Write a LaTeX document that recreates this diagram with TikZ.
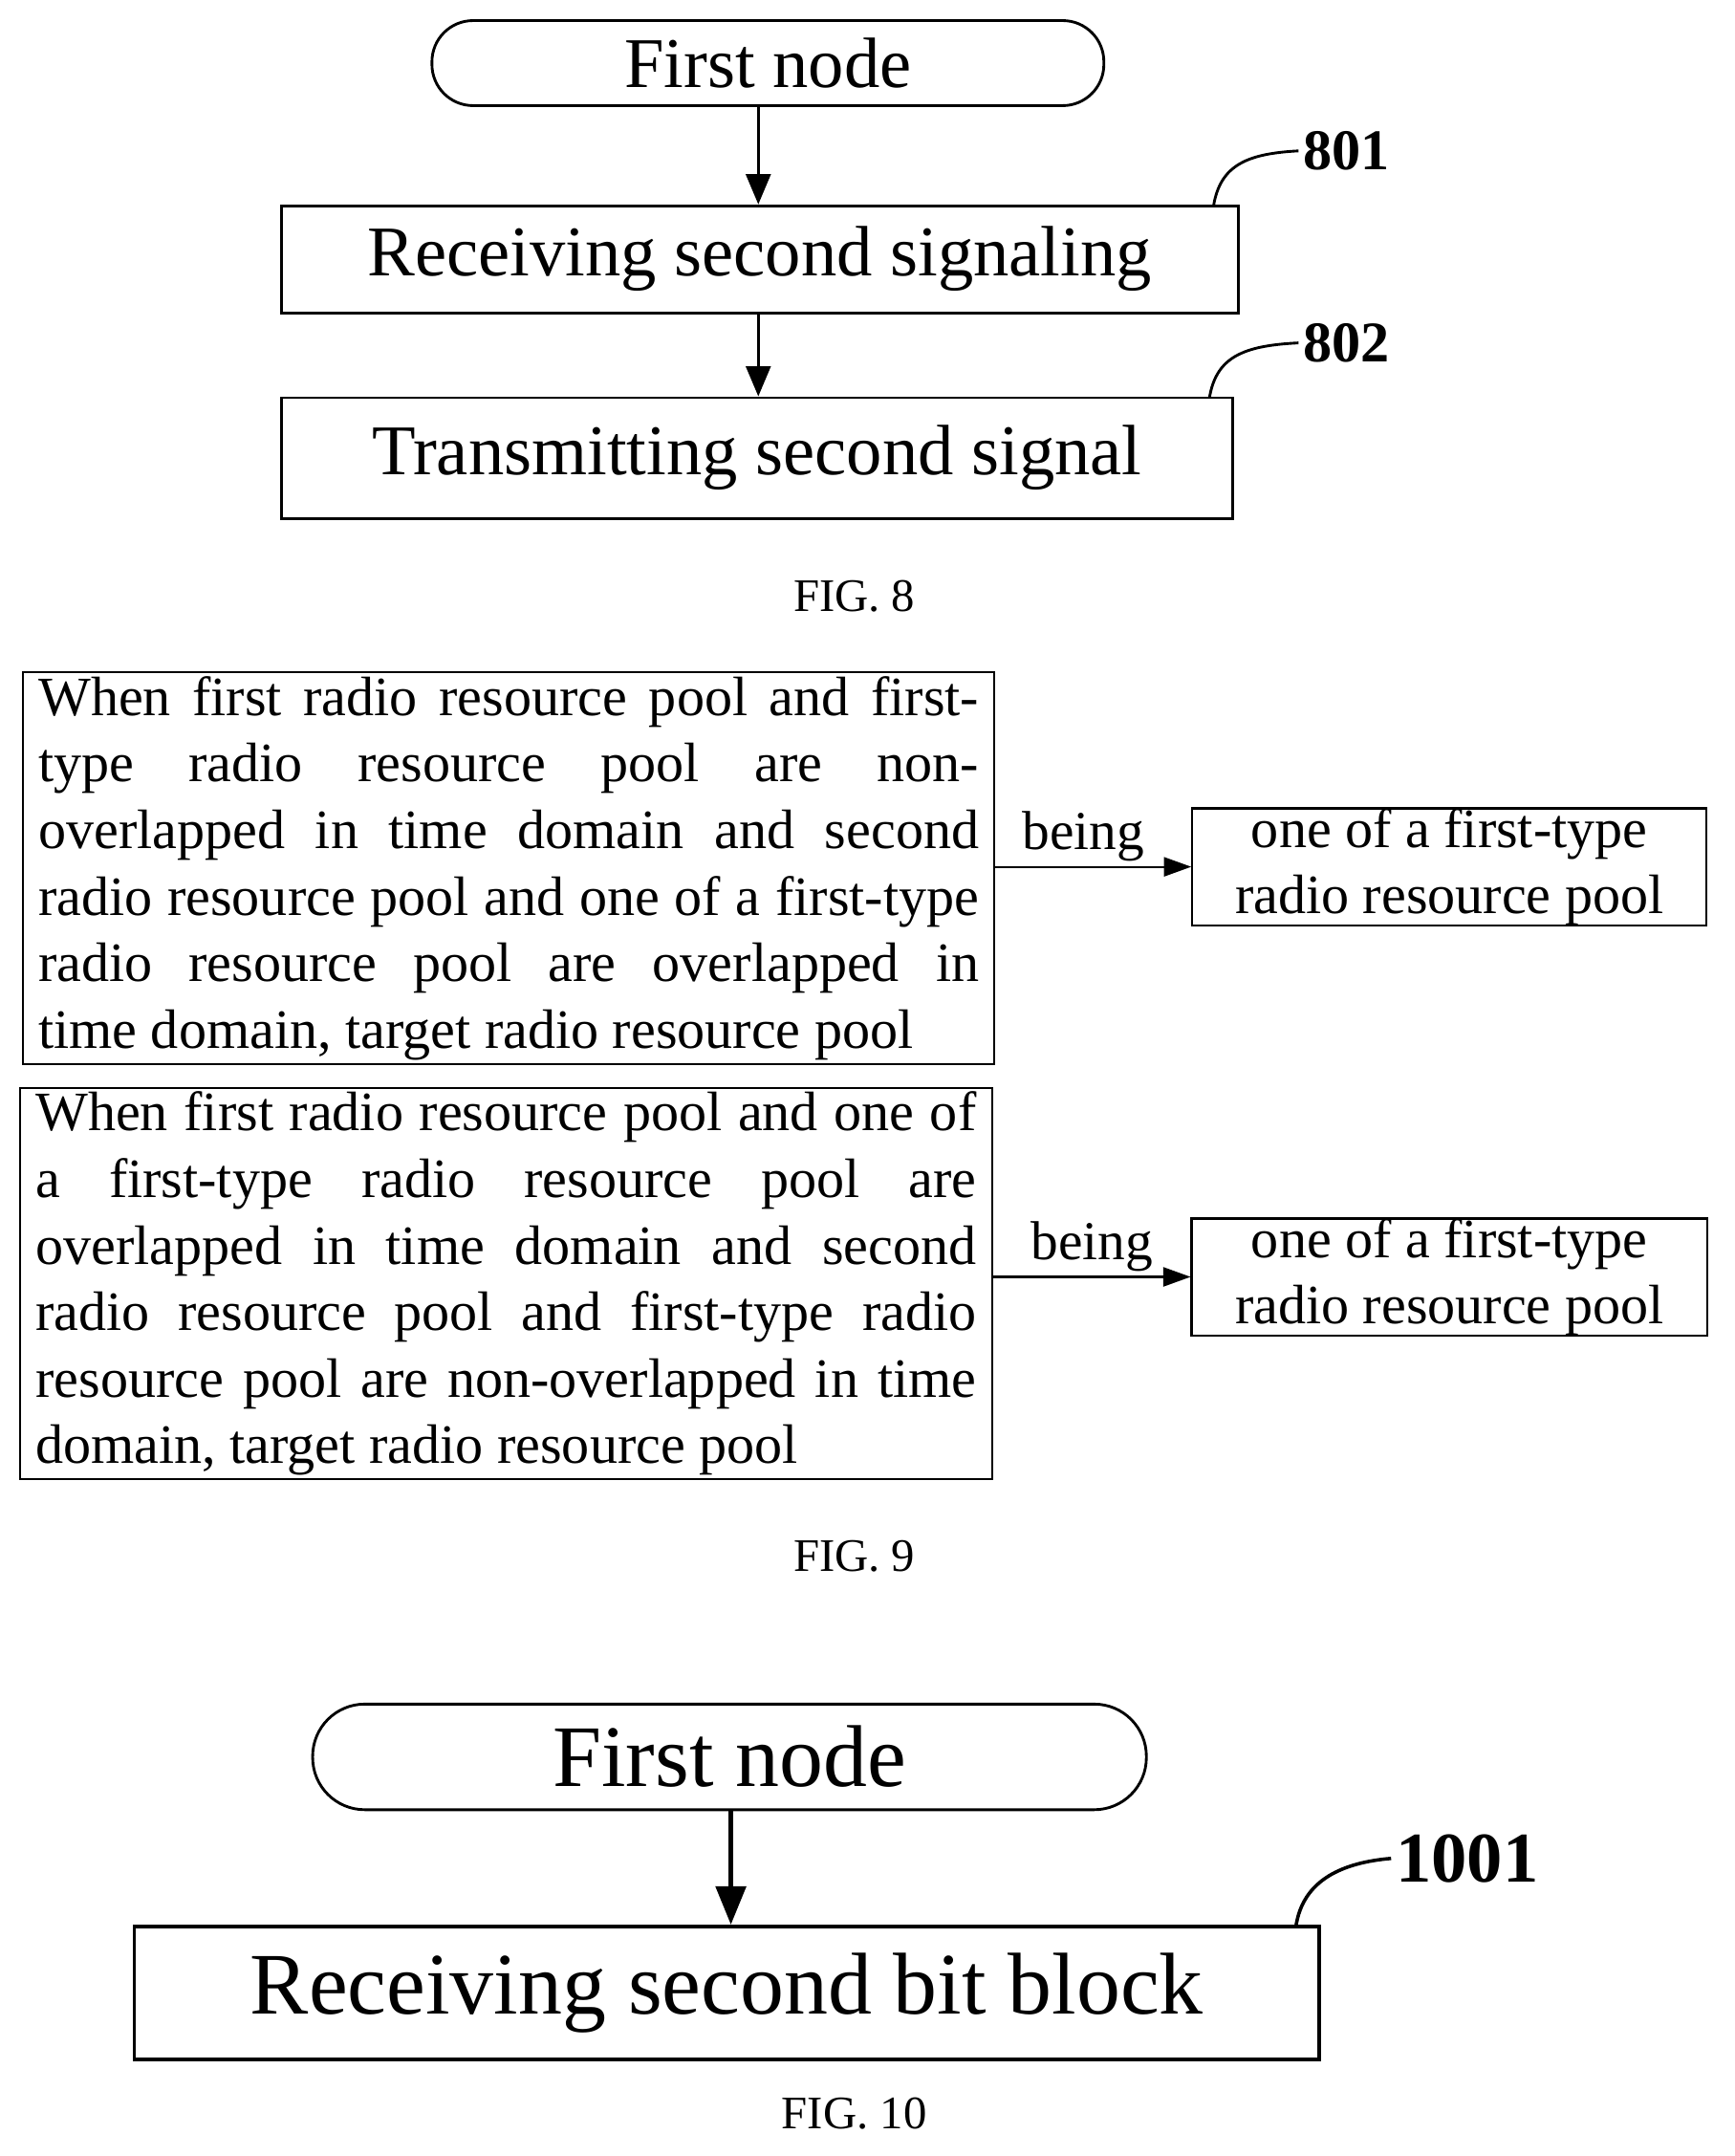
\documentclass[tikz,border=0pt]{standalone}
\usepackage{fontspec}
\setmainfont{Liberation Serif}
\usetikzlibrary{arrows.meta}
\begin{document}
\begin{tikzpicture}[x=1pt,y=-1pt,
 box/.style={draw,line width=2pt,inner sep=0pt},
 term/.style={draw,line width=2pt,rounded corners=30pt,inner sep=0pt},
 arr/.style={line width=2pt,-{Triangle[length=22pt,width=18pt]}},
 tarr/.style={line width=1.5pt,-{Triangle[length=20pt,width=14pt]}},
 figcap/.style={font=\fontsize{34}{38}\selectfont},
 num/.style={font=\fontsize{42}{46}\selectfont\bfseries},
 lead/.style={line width=2pt}]
\useasboundingbox (0,0) rectangle (1265,1572);
% FIG 8
\node[term,minimum width=490pt,minimum height=62pt,font=\fontsize{52}{56}\selectfont] (t8) at (560,46) {First node};
\node[box,minimum width=698pt,minimum height=78pt,font=\fontsize{52}{56}\selectfont] (b1) at (554,189) {Receiving second signaling};
\node[box,minimum width=694pt,minimum height=88pt,font=\fontsize{52}{56}\selectfont] (b2) at (552,334) {Transmitting second signal};
\draw[arr] (t8.south -| 553,0) -- (b1.north -| 553,0);
\draw[arr] (b1.south -| 553,0) -- (b2.north -| 553,0);
\node[num] (n801) at (982,110) {801};
\node[num] (n802) at (982,250) {802};
\draw[lead] (885,150) .. controls (890,120) and (910,112) .. (n801.west);
\draw[lead] (882,290) .. controls (887,260) and (907,252) .. (n802.west);
\node[figcap] (f8) at (623,435) {FIG. 8};
% FIG 9
\node[box,line width=1.5pt,minimum width=708pt,minimum height=286pt,text width=686pt,align=justify,font=\fontsize{40.5}{48.5}\selectfont] (a) at (371,633) {When first radio resource pool and first-\linebreak type radio resource pool are non-\linebreak overlapped in time domain and second\linebreak radio resource pool and one of a first-type\linebreak radio resource pool are overlapped in\linebreak time domain, target radio resource pool};
\node[box,line width=1.5pt,minimum width=375pt,minimum height=81pt,align=center,font=\fontsize{40.5}{48}\selectfont] (ra) at (1057,632) {one of a first-type\\radio resource pool};
\draw[tarr] (a.east |- 0,632) -- node[above,font=\fontsize{40}{44}\selectfont,pos=0.45]{being} (ra.west);
\node[box,line width=1.5pt,minimum width=709pt,minimum height=285pt,text width=686pt,align=justify,font=\fontsize{40.5}{48.5}\selectfont] (b) at (369,936) {When first radio resource pool and one of\linebreak a first-type radio resource pool are\linebreak overlapped in time domain and second\linebreak radio resource pool and first-type radio\linebreak resource pool are non-overlapped in time\linebreak domain, target radio resource pool};
\node[box,line width=1.5pt,minimum width=376pt,minimum height=82pt,align=center,font=\fontsize{40.5}{48}\selectfont] (rb) at (1057,931) {one of a first-type\\radio resource pool};
\draw[tarr] (b.east |- 0,931) -- node[above,font=\fontsize{40}{44}\selectfont,pos=0.5]{being} (rb.west);
\node[figcap] (f9) at (623,1135) {FIG. 9};
% FIG 10
\node[term,rounded corners=38pt,minimum width=608pt,minimum height=77pt,font=\fontsize{64}{68}\selectfont] (t10) at (532,1281) {First node};
\node[box,line width=2.5pt,minimum width=864pt,minimum height=97pt,font=\fontsize{64}{68}\selectfont] (b10) at (530,1453) {Receiving second bit block};
\draw[line width=3pt,-{Triangle[length=28pt,width=22pt]}] (t10.south -| 533,0) -- (b10.north -| 533,0);
\node[num,font=\fontsize{52}{56}\selectfont\bfseries] (n1001) at (1070,1355) {1001};
\draw[lead,line width=2.5pt] (945,1405) .. controls (950,1370) and (980,1358) .. (n1001.west);
\node[figcap] (f10) at (623,1541) {FIG. 10};
\end{tikzpicture}
\end{document}
